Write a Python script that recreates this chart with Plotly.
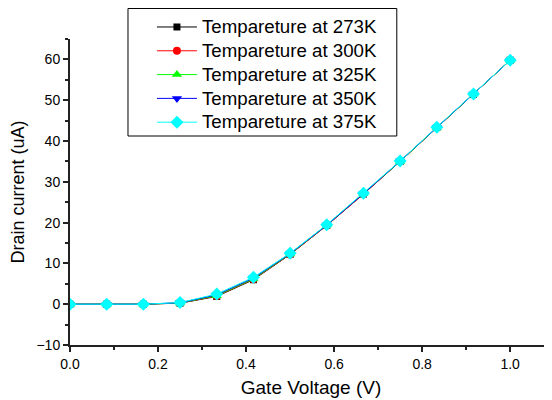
import plotly.graph_objects as go

gate_voltage = [0, 1/12, 2/12, 3/12, 4/12, 5/12, 6/12, 7/12, 8/12, 9/12, 10/12, 11/12, 1.0]
i_273 = [0, 0, 0, 0.25, 1.9, 6.0, 12.2, 19.3, 27.0, 35.0, 43.3, 51.4, 59.8]
i_300 = [0, 0, 0, 0.28, 2.0, 6.1, 12.2, 19.3, 27.0, 35.0, 43.3, 51.4, 59.8]
i_325 = [0, 0, 0, 0.3, 2.1, 6.2, 12.3, 19.4, 27.1, 35.0, 43.3, 51.5, 59.8]
i_350 = [0, 0, 0, 0.35, 2.3, 6.4, 12.4, 19.4, 27.1, 35.1, 43.4, 51.5, 59.8]
i_375 = [0, 0, 0, 0.4, 2.5, 6.6, 12.5, 19.5, 27.2, 35.1, 43.4, 51.5, 59.8]
labels = ["Tempareture at 273K", "Tempareture at 300K", "Tempareture at 325K",
          "Tempareture at 350K", "Tempareture at 375K"]

series = [
    (labels[0], i_273, "#000000", "square", 7),
    (labels[1], i_300, "#ff0000", "circle", 8),
    (labels[2], i_325, "#00ff00", "triangle-up", 9),
    (labels[3], i_350, "#0000ff", "triangle-down", 9),
    (labels[4], i_375, "#00ffff", "diamond", 10),
]

fig = go.Figure()
for name, ys, color, sym, sz in series:
    fig.add_trace(go.Scatter(
        x=gate_voltage, y=ys,
        name='<span style="font-size:18.7px">' + name + '</span>',
        mode="lines+markers",
        line=dict(color=color, width=1),
        marker=dict(symbol=sym, size=sz, color=color),
    ))

font_family = "Liberation Sans, Arial, sans-serif"
fig.update_layout(
    width=552, height=400,
    margin=dict(l=62, r=8, t=31, b=63, autoexpand=False),
    paper_bgcolor="white", plot_bgcolor="white",
    font=dict(family=font_family, color="black", size=14),
    showlegend=True,
    legend=dict(
        x=0.170, y=1.0945, xanchor="left", yanchor="top",
        borderwidth=0, bgcolor="rgba(0,0,0,0)",
        font=dict(size=16, family=font_family),
        itemwidth=40,
    ),
    shapes=[dict(
        type="rect", xref="paper", yref="paper",
        x0=0.1203, x1=0.678, y0=0.683, y1=1.0997,
        line=dict(color="black", width=1), fillcolor="white", layer="below",
    )],
    xaxis=dict(
        range=[0, 1.095], showgrid=False, zeroline=False, automargin=False,
        showline=True, linecolor="#222", linewidth=2,
        ticks="outside", tickwidth=1.5, ticklen=5, tickcolor="#222",
        tick0=0, dtick=0.2, tickformat=".1f",
        minor=dict(ticks="outside", dtick=0.1, ticklen=3, tickwidth=1.5, tickcolor="#222"),
        title=dict(text="Gate Voltage (V)", font=dict(size=19), standoff=10),
        tickfont=dict(size=14),
    ),
    yaxis=dict(
        range=[-10, 65], showgrid=False, zeroline=False, automargin=False,
        showline=True, linecolor="#222", linewidth=2,
        ticks="outside", tickwidth=1.5, ticklen=5, tickcolor="#222",
        tick0=0, dtick=10,
        minor=dict(ticks="outside", dtick=5, ticklen=3, tickwidth=1.5, tickcolor="#222"),
        title=dict(text="Drain current (uA)", font=dict(size=18), standoff=8),
        tickfont=dict(size=14),
    ),
)

fig.write_html("out.html")
